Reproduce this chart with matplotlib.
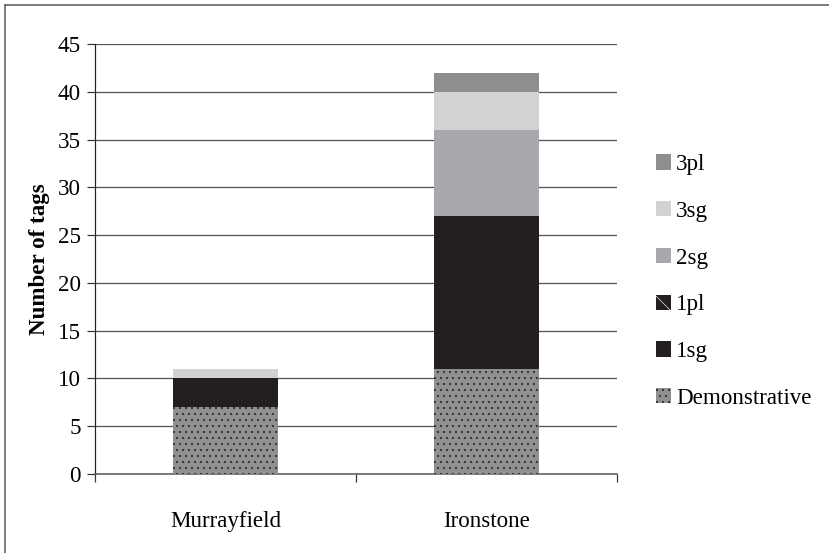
import matplotlib
matplotlib.use("Agg")
import matplotlib.pyplot as plt
from matplotlib.lines import Line2D
import numpy as np

plt.rcParams['font.family'] = ['Liberation Serif', 'DejaVu Serif']
plt.rcParams['hatch.linewidth'] = 0.6

categories = ["Murrayfield", "Ironstone"]
series_names = ["Demonstrative", "1sg", "1pl", "2sg", "3sg", "3pl"]
demonstrative = [7, 11]
first_sg = [3, 16]
first_pl = [0, 0]
second_sg = [0, 9]
third_sg = [1, 4]
third_pl = [0, 2]
yticks = [0, 5, 10, 15, 20, 25, 30, 35, 40, 45]

series = [demonstrative, first_sg, first_pl, second_sg, third_sg, third_pl]
colors = ["#8f9092", "#231f20", "#231f20", "#a7a9ac", "#d1d2d4", "#8d8e90"]
hatches = ["..", None, "\\", None, None, None]
hatch_colors = ["#111111", None, "white", None, None, None]

FS = 23
W, H = 829, 553
fig = plt.figure(figsize=(W / 72, H / 72), dpi=72)
ax = fig.add_axes([95 / W, 1 - 474 / H, (617 - 95) / W, (474 - 44) / H])

x = np.arange(len(categories))
bottom = np.zeros(len(categories))
handles = []
for vals, name, c, h, hc in zip(series, series_names, colors, hatches, hatch_colors):
    vals = np.array(vals, dtype=float)
    if h:
        bars = ax.bar(x, vals, 0.4, bottom=bottom, color=c, hatch=h,
                      edgecolor=hc, linewidth=0, label=name, zorder=3)
    else:
        bars = ax.bar(x, vals, 0.4, bottom=bottom, color=c,
                      linewidth=0, label=name, zorder=3)
    handles.append(bars)
    bottom += vals

ax.set_xlim(-0.5, len(categories) - 0.5)
ax.set_ylim(0, 45)
ax.set_yticks(yticks)
ax.yaxis.grid(True, color="#555555", linewidth=1.3, zorder=0)
ax.set_axisbelow(True)

ax.set_xticks(x)
ax.set_xticklabels(categories, fontsize=FS)
ax.set_xticks(np.arange(-0.5, len(categories), 1.0), minor=True)
ax.tick_params(axis='x', which='major', length=0, pad=37)
ax.tick_params(axis='x', which='minor', length=8, width=1.2, color="#333333", direction='out')
ax.tick_params(axis='y', labelsize=FS, length=8, width=1.2, color="#333333", pad=6)

for s in ['top', 'right']:
    ax.spines[s].set_visible(False)
ax.spines['left'].set_color("#222222")
ax.spines['left'].set_linewidth(1.2)
ax.spines['bottom'].set_color("#555555")
ax.spines['bottom'].set_linewidth(1.5)

ax.set_ylabel("Number of tags", fontsize=FS, fontweight='bold', labelpad=8)

leg = fig.legend(handles[::-1], series_names[::-1], loc='center left',
                 bbox_to_anchor=(656 / W, 1 - 281.5 / H), frameon=False,
                 fontsize=FS, handlelength=0.65, handleheight=0.65,
                 handletextpad=0.22, labelspacing=1.12, borderpad=0, borderaxespad=0)

fig.add_artist(Line2D([5 / W, 5 / W], [0, 1 - 5 / H], transform=fig.transFigure,
                      color="#555555", linewidth=1.5))
fig.add_artist(Line2D([5 / W, 1], [1 - 5 / H, 1 - 5 / H], transform=fig.transFigure,
                      color="#555555", linewidth=1.5))

fig.savefig("out.png", dpi=72)
